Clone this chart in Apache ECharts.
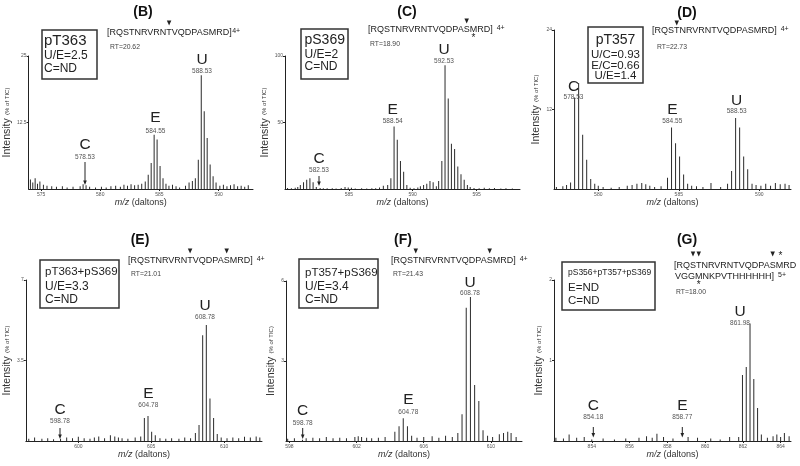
<!DOCTYPE html>
<html><head><meta charset="utf-8">
<script src="https://cdn.jsdelivr.net/npm/echarts@6/dist/echarts.min.js"></script>
<style>html,body{margin:0;padding:0;background:#fff}#c{width:800px;height:466px}</style>
</head><body><div id="c"></div>
<script>
// ---------- DATA (m/z, intensity % of TIC) ----------
const specB = [[574.1,1.8],[574.3,1.2],[574.5,2.0],[574.7,1.0],[574.9,1.4],[575.2,0.8],[575.5,0.6],[575.9,0.5],[576.3,0.4],[576.8,0.5],[577.2,0.3],[577.7,0.4],[578.3,0.5],[578.55,0.9],[578.8,0.7],[579.1,0.4],[579.6,0.3],[580.1,0.4],[580.5,0.3],[580.9,0.5],[581.3,0.6],[581.7,0.4],[582.0,0.8],[582.3,0.6],[582.6,0.9],[582.9,0.7],[583.2,0.8],[583.5,1.0],[583.8,1.4],[584.05,2.7],[584.3,4.9],[584.55,10.2],[584.8,9.3],[585.05,4.3],[585.3,2.0],[585.55,1.0],[585.8,0.6],[586.1,0.8],[586.4,0.5],[586.7,0.3],[587.2,0.6],[587.5,1.2],[587.78,1.5],[588.03,2.0],[588.28,5.5],[588.53,21.4],[588.78,14.6],[589.03,9.6],[589.28,4.6],[589.53,2.4],[589.78,1.2],[590.1,0.6],[590.4,0.8],[590.7,0.5],[591.0,0.7],[591.3,0.9],[591.6,0.5],[591.9,0.6],[592.2,0.4],[592.5,0.7]];
const specC = [[580.2,0.8],[580.5,0.6],[580.8,1.0],[581.0,1.5],[581.2,3],[581.45,5],[581.7,7],[581.95,8],[582.2,5],[582.45,1.5],[582.75,0.8],[583.0,0.6],[583.3,0.5],[583.7,0.6],[584.0,0.4],[584.4,0.8],[584.7,1.5],[584.95,1.2],[585.2,0.9],[585.5,0.4],[586.0,0.5],[586.4,0.3],[586.8,0.6],[587.1,0.5],[587.4,1.2],[587.7,2.5],[588.04,3],[588.29,8],[588.54,47],[588.79,37],[589.04,21],[589.29,13],[589.54,3],[589.8,1.0],[590.1,0.5],[590.4,1.2],[590.6,2],[590.85,3],[591.1,4],[591.35,6],[591.6,5],[591.85,2],[592.03,6],[592.28,21],[592.53,93],[592.78,68],[593.03,34],[593.28,30],[593.53,17],[593.78,11],[594.03,7],[594.28,3],[594.5,1.5],[594.8,0.8],[595.2,0.6],[595.6,0.9],[596.0,0.5],[596.4,0.7],[596.9,0.4],[597.3,0.5],[597.8,0.3]];
const specD = [[577.4,0.3],[577.8,0.4],[578.03,0.6],[578.28,1.0],[578.53,13.8],[578.78,16.0],[579.03,8.2],[579.28,4.4],[579.53,1.5],[579.78,0.8],[580.0,0.5],[580.3,0.3],[580.8,0.2],[581.3,0.3],[581.8,0.5],[582.1,0.6],[582.4,0.8],[582.7,0.9],[582.95,0.7],[583.2,0.5],[583.5,0.3],[583.9,0.4],[584.3,1.7],[584.55,9.3],[584.8,6.9],[585.05,4.9],[585.3,2.2],[585.55,0.8],[585.8,0.5],[586.1,0.4],[586.5,0.3],[587.0,0.9],[587.6,0.3],[588.03,0.8],[588.28,2.7],[588.53,10.7],[588.78,9.3],[589.03,4.9],[589.28,3.0],[589.55,0.8],[589.8,0.6],[590.1,0.5],[590.4,0.8],[590.7,0.5],[591.0,0.9],[591.3,0.7],[591.6,0.8],[591.85,0.6]];
const specE = [[596.6,0.1],[597.0,0.15],[597.5,0.1],[597.9,0.12],[598.3,0.08],[598.78,0.1],[599.2,0.15],[599.6,0.12],[600.0,0.18],[600.4,0.12],[600.8,0.1],[601.1,0.15],[601.4,0.2],[601.8,0.12],[602.2,0.25],[602.5,0.2],[602.75,0.15],[603.0,0.12],[603.4,0.1],[603.9,0.15],[604.28,0.2],[604.53,1.0],[604.78,1.09],[605.03,0.4],[605.28,0.25],[605.6,0.12],[606.0,0.1],[606.4,0.12],[606.9,0.1],[607.3,0.15],[607.7,0.12],[608.03,0.35],[608.28,0.7],[608.53,4.6],[608.78,5.04],[609.03,1.85],[609.28,1.0],[609.53,0.3],[609.8,0.15],[610.2,0.12],[610.6,0.15],[611.0,0.12],[611.4,0.18],[611.8,0.15],[612.2,0.2],[612.45,0.15]];
const specF = [[597.9,0.08],[598.3,0.1],[598.78,0.05],[599.0,0.1],[599.4,0.12],[599.8,0.1],[600.2,0.15],[600.6,0.1],[601.0,0.12],[601.4,0.1],[601.9,0.15],[602.1,0.18],[602.3,0.15],[602.6,0.12],[602.9,0.1],[603.3,0.12],[603.7,0.15],[604.28,0.35],[604.53,0.55],[604.78,0.85],[605.03,0.55],[605.28,0.2],[605.6,0.12],[606.0,0.15],[606.5,0.18],[606.9,0.12],[607.3,0.2],[607.7,0.15],[608.03,0.3],[608.28,1.0],[608.53,5.0],[608.78,5.4],[609.03,2.1],[609.28,1.5],[609.53,0.4],[609.8,0.2],[610.1,0.15],[610.5,0.25],[610.75,0.3],[611.0,0.35],[611.2,0.3],[611.5,0.15]];
const specG = [[852.1,0.04],[852.5,0.03],[852.8,0.08],[853.2,0.04],[853.6,0.05],[854.0,0.02],[854.6,0.03],[855.2,0.02],[855.8,0.03],[856.5,0.04],[856.9,0.06],[857.2,0.04],[857.45,0.09],[857.8,0.05],[858.3,0.03],[859.1,0.05],[859.6,0.04],[860.3,0.03],[860.8,0.02],[861.3,0.05],[861.78,0.05],[861.98,0.82],[862.18,0.92],[862.38,1.46],[862.58,0.77],[862.78,0.41],[862.98,0.08],[863.3,0.04],[863.6,0.06],[863.8,0.08],[864.0,0.05],[864.2,0.1],[864.45,0.06]];

const xTicksB=[575,580,585,590], yTicksB=[12.5,25];
const xTicksC=[585,590,595], yTicksC=[50,100];
const xTicksD=[580,585,590], yTicksD=[12,24];
const xTicksE=[600,605,610], yTicksE=[3.5,7];
const xTicksF=[598,602,606,610], yTicksF=[3,6];
const xTicksG=[854,856,858,860,862,864], yTicksG=[1,2];

const SEQ = '[RQSTNRVRNTVQDPASMRD]';

// ---------- LAYOUT ----------
const FONT = '"Liberation Sans", Arial, Helvetica, sans-serif';
const panels = [
 {spec:specB, xMin:573.95, xMax:592.9, yMax:25, xt:xTicksB, yt:yTicksB, grid:{left:28,top:56,width:225,height:133}, yGap:9},
 {spec:specC, xMin:580, xMax:598.4, yMax:100, xt:xTicksC, yt:yTicksC, grid:{left:285,top:56,width:235,height:133}, yGap:7},
 {spec:specD, xMin:577.25, xMax:591.97, yMax:24, xt:xTicksD, yt:yTicksD, grid:{left:554,top:30,width:237,height:159}, yGap:6},
 {spec:specE, xMin:596.4, xMax:612.6, yMax:7, xt:xTicksE, yt:yTicksE, grid:{left:25,top:280,width:237,height:161}, yGap:9},
 {spec:specF, xMin:597.8, xMax:611.85, yMax:6, xt:xTicksF, yt:yTicksF, grid:{left:286,top:281,width:236,height:160}, yGap:8},
 {spec:specG, xMin:852.0, xMax:864.55, yMax:2, xt:xTicksG, yt:yTicksG, grid:{left:554,top:280,width:237,height:161}, yGap:6}
];

const grids=[], xAxes=[], yAxes=[], series=[];
panels.forEach((p,i)=>{
  grids.push(Object.assign({containLabel:false}, p.grid));
  xAxes.push({type:'value', gridIndex:i, min:p.xMin, max:p.xMax,
    axisLine:{show:true,onZero:false,lineStyle:{color:'#222',width:1}},
    axisTick:{show:true,length:2,customValues:p.xt,lineStyle:{color:'#222'}},
    axisLabel:{customValues:p.xt,fontSize:5,color:'#555',margin:3,fontFamily:FONT},
    splitLine:{show:false},
    name:'{i|m/z} (daltons)', nameLocation:'middle', nameGap:9,
    nameTextStyle:{fontSize:9,color:'#333',fontFamily:FONT,verticalAlign:'top',
      rich:{i:{fontStyle:'italic',fontSize:9,color:'#333',fontFamily:FONT}}}
  });
  yAxes.push({type:'value', gridIndex:i, min:0, max:p.yMax,
    axisLine:{show:true,lineStyle:{color:'#222',width:1}},
    axisTick:{show:true,length:2,customValues:p.yt,lineStyle:{color:'#222'}},
    axisLabel:{customValues:p.yt,fontSize:5,color:'#555',margin:2,fontFamily:FONT},
    splitLine:{show:false},
    name:'{a|Intensity} {b|(% of TIC)}', nameLocation:'middle', nameRotate:90, nameGap:p.yGap,
    nameTextStyle:{color:'#333',fontFamily:FONT,
      rich:{a:{fontSize:10.5,color:'#333',fontFamily:FONT},b:{fontSize:6,color:'#333',fontFamily:FONT}}}
  });
  series.push({type:'bar', xAxisIndex:i, yAxisIndex:i, data:p.spec, barWidth:1,
    itemStyle:{color:'#2b2b2b'}, silent:true, animation:false});
});

// ---------- ANNOTATIONS ----------
const els = [];
const mctx = document.createElement('canvas').getContext('2d');
function tw(s, fs){ mctx.font = fs+'px '+FONT; return mctx.measureText(s).width; }
function txt(x,y,text,fs,o={}){
  return {type:'text', x:x, y:y, silent:true, z:100, style:{text:text, fontSize:fs, fontFamily:FONT,
    fontWeight:o.bold?'bold':'normal', fill:o.color||'#222', align:o.align||'center', verticalAlign:'middle',
    textAlign:o.align||'center', textVerticalAlign:'middle'}};
}
function tri(cx, top, w, h){ w=w||4.5; h=h||5;
  return {type:'polygon', silent:true, z:100, shape:{points:[[cx-w/2,top],[cx+w/2,top],[cx,top+h]]}, style:{fill:'#222'}}; }
function arrow(x, y1, y2){
  els.push({type:'line', silent:true, z:100, shape:{x1:x,y1:y1,x2:x,y2:y2-3}, style:{stroke:'#222',lineWidth:1}});
  els.push(tri(x, y2-4.5, 3.6, 4.5));
}
function charCenter(x, s, i, fs){ return x + tw(s.slice(0,i), fs) + tw(s[i], fs)/2; }
function seq(x, y, s, fs, sup, supGap, arrows, arrowTop, starsBelow, starY, starsAbove, starAboveY){
  els.push(txt(x, y, s, fs, {align:'left', color:'#222'}));
  const w = tw(s, fs);
  if (sup) els.push(txt(x+w+supGap, y-2, sup, 7, {align:'left', color:'#222'}));
  (arrows||[]).forEach(i=>els.push(tri(charCenter(x,s,i,fs), arrowTop)));
  (starsBelow||[]).forEach(i=>els.push(txt(charCenter(x,s,i,fs), starY, '*', 10)));
  (starsAbove||[]).forEach(i=>els.push(txt(charCenter(x,s,i,fs)+1, starAboveY, '*', 10)));
}
function box(x,y,w,h,lines,tx,align){
  els.push({type:'rect', silent:true, z:90, shape:{x:x,y:y,width:w,height:h}, style:{fill:'none',stroke:'#333',lineWidth:1.5}});
  lines.forEach(l=>els.push(txt(tx, l[2], l[0], l[1], {align:align||'left', color:'#222'})));
}
function peak(letter, num, x, yl, yn, arr){
  els.push(txt(x, yl, letter, 15.5, {color:'#222'}));
  els.push(txt(x, yn, num, 6.5, {color:'#555'}));
  if (arr) arrow(x, arr[0], arr[1]);
}

// panel titles
[['(B)',143,12],['(C)',407,12],['(D)',687,13],['(E)',140,240],['(F)',403,240],['(G)',687,240]]
  .forEach(t=>els.push(txt(t[1],t[2],t[0],14,{bold:true,color:'#111'})));

// B
seq(107, 33, SEQ, 9, '4+', 0.5, [10], 20.5);
els.push(txt(110, 47, 'RT=20.62', 6.8, {align:'left', color:'#444'}));
box(42, 30, 55, 49, [['pT363',15,41],['U/E=2.5',12,56],['C=ND',12,69]], 44);
peak('U','588.53',202,60,71); peak('E','584.55',155.5,118,131); peak('C','578.53',85,145,157,[162,185]);
// C
seq(368, 30, SEQ, 9, '4+', 4, [16], 18.5, [17], 38.5);
els.push(txt(370, 44, 'RT=18.90', 6.8, {align:'left', color:'#444'}));
box(301, 29, 47, 50, [['pS369',14,40],['U/E=2',12,55],['C=ND',12,67]], 304.5);
peak('U','592.53',444,50,61.5); peak('E','588.54',392.7,110,121); peak('C','582.53',319,159,170.5,[176,186]);
// D
seq(652, 31, SEQ, 9, '4+', 4, [4], 20.5);
els.push(txt(657, 47, 'RT=22.73', 6.8, {align:'left', color:'#444'}));
box(588, 27, 55, 56, [['pT357',14,40],['U/C=0.93',11.5,55],['E/C=0.66',11.5,65.5],['U/E=1.4',11.5,76]], 615.5, 'center');
peak('C','578.53',573.5,86.7,97.7); peak('E','584.55',672.3,110,121.7); peak('U','588.53',736.7,100.7,111.7);
// E
seq(128, 261, SEQ, 9, '4+', 4, [10,16], 248.5);
els.push(txt(131, 274, 'RT=21.01', 6.8, {align:'left', color:'#444'}));
box(40, 260, 79, 48, [['pT363+pS369',11.5,272],['U/E=3.3',12,287],['C=ND',12,300]], 45);
peak('U','608.78',205,306,317.3); peak('E','604.78',148.3,393.3,405.7); peak('C','598.78',60,409.3,421.7,[428,439]);
// F
seq(391, 261, SEQ, 9, '4+', 4, [4,16], 248.5);
els.push(txt(393, 274, 'RT=21.43', 6.8, {align:'left', color:'#444'}));
box(299, 259, 79, 49, [['pT357+pS369',11.5,273],['U/E=3.4',12,287],['C=ND',12,300]], 305);
peak('U','608.78',470,282.7,293); peak('E','604.78',408.3,399.3,412); peak('C','598.78',302.7,411,423,[428,439]);
// G
const SEQG1 = '[RQSTNRVRNTVQDPASMRD', SEQG2 = 'VGGMNKPVTHHHHHH]';
seq(674, 266, SEQG1, 9, null, 0, [3,4,16], 251.5, null, 0, [17], 256);
seq(675, 277, SEQG2, 9, '5+', 4, [], 0, [3], 285);
els.push(txt(676, 292, 'RT=18.00', 6.8, {align:'left', color:'#444'}));
box(562, 262, 93, 48, [['pS356+pT357+pS369',8.5,273],['E=ND',11.5,288],['C=ND',11.5,301]], 568);
peak('U','861.98',740,311.7,323.3); peak('C','854.18',593.3,406,417.7,[427,437.5]); peak('E','858.77',682.3,406,417.7,[427,437.5]);

const chart = echarts.init(document.getElementById('c'), null, {renderer:'canvas', width:800, height:466});
chart.setOption({
  animation:false, backgroundColor:'#fff',
  textStyle:{fontFamily:FONT},
  grid:grids, xAxis:xAxes, yAxis:yAxes, series:series, graphic:{elements:els}
});
</script></body></html>
